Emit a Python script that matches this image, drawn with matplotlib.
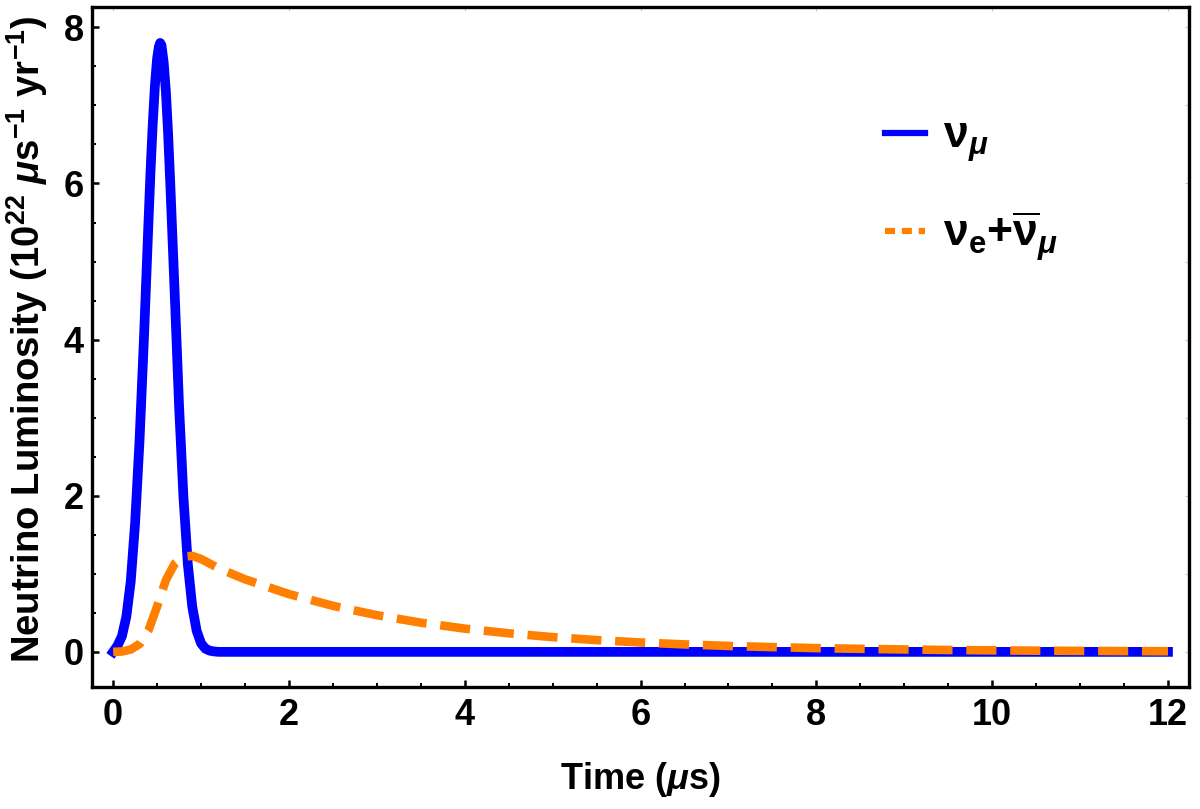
import matplotlib
matplotlib.use('Agg')
import matplotlib.pyplot as plt
from matplotlib.ticker import MultipleLocator
from matplotlib.lines import Line2D

plt.rcParams['font.family'] = ['Liberation Sans', 'DejaVu Sans']
plt.rcParams['font.weight'] = 'bold'
plt.rcParams['axes.labelweight'] = 'bold'
plt.rcParams['mathtext.fontset'] = 'custom'
plt.rcParams['mathtext.rm'] = 'Liberation Sans:bold'
plt.rcParams['mathtext.bf'] = 'Liberation Sans:bold'
plt.rcParams['mathtext.it'] = 'Liberation Sans:italic:bold'

# nu_mu pulse
t_mu = [0.0, 0.05, 0.1, 0.15, 0.2, 0.25, 0.3, 0.35, 0.4, 0.425, 0.45, 0.475,
        0.5, 0.52, 0.535, 0.55, 0.575, 0.6, 0.625, 0.65, 0.7, 0.75, 0.8, 0.85,
        0.9, 0.95, 1.0, 1.05, 1.1, 1.15, 1.2, 1.3, 2.0, 4.0, 6.0, 8.0, 10.0, 12.0]
lum_mu = [0.0, 0.08, 0.2, 0.45, 0.9, 1.65, 2.7, 4.0, 5.45, 6.15, 6.75, 7.25,
          7.6, 7.75, 7.8, 7.77, 7.55, 7.18, 6.65, 6.0, 4.6, 3.15, 1.98, 1.12,
          0.58, 0.27, 0.11, 0.04, 0.015, 0.005, 0.0, 0.0, 0.0, 0.0, 0.0, 0.0, 0.0, 0.0]

# nu_e + anti-nu_mu
t_e = [0.0, 0.1, 0.2, 0.3, 0.4, 0.5, 0.6, 0.7, 0.8, 0.9, 1.0, 1.2, 1.5,
       2.0, 2.5, 3.0, 3.5, 4.0, 4.5, 5.0, 5.5, 6.0, 6.5, 7.0, 7.5, 8.0,
       8.5, 9.0, 9.5, 10.0, 10.5, 11.0, 11.5, 12.0]
lum_e = [0.0, 0.005, 0.03, 0.1, 0.27, 0.58, 0.92, 1.13, 1.22, 1.23, 1.19, 1.07, 0.93,
         0.74, 0.59, 0.47, 0.374, 0.298, 0.238, 0.189, 0.151, 0.12, 0.096, 0.076, 0.061, 0.048,
         0.039, 0.031, 0.024, 0.0195, 0.0155, 0.0124, 0.0099, 0.0079]

blue = '#0000FF'
orange = '#FF8000'

fig = plt.figure(figsize=(12, 8.09), dpi=100)
ax = fig.add_axes([0.0767, 0.1508, 0.9142, 0.8405])

ax.plot(t_mu, lum_mu, color=blue, lw=7.0, solid_joinstyle='round', zorder=3)
ax.plot(t_e, lum_e, color=orange, lw=6.2, dashes=(3.5, 1.6), dash_capstyle='butt', zorder=4)

ax.set_xlim(-0.24, 12.24)
ax.set_ylim(-0.45, 8.26)

ax.xaxis.set_major_locator(MultipleLocator(2))
ax.xaxis.set_minor_locator(MultipleLocator(0.5))
ax.yaxis.set_major_locator(MultipleLocator(2))
ax.yaxis.set_minor_locator(MultipleLocator(0.5))

for s in ax.spines.values():
    s.set_linewidth(2.4)

ax.tick_params(which='major', direction='in', length=5, width=1.8, labelsize=26, pad=8)
ax.tick_params(axis='y', which='major', pad=6)
ax.tick_params(which='minor', direction='in', length=3, width=1.4)

# faint ticks on top and right frame
for sec in (ax.secondary_xaxis('top'), ax.secondary_yaxis('right')):
    sec.tick_params(which='both', direction='in', length=3, width=0.8, color='#c8c8c8',
                    labelleft=False, labelright=False, labeltop=False, labelbottom=False)
    sec.spines[:].set_visible(False)

ax.set_xlabel(r'Time ($\mathit{\mu}$s)', fontsize=26)
ax.xaxis.set_label_coords(0.5, -0.108)
ax.set_ylabel(r'Neutrino Luminosity (10$^{\mathrm{22}}$ $\mathit{\mu}$s$^{\mathrm{-1}}$ yr$^{\mathrm{-1}}$)',
              fontsize=27.5)
ax.yaxis.set_label_coords(-0.038, 0.512)

handles = [Line2D([], [], color=blue, lw=4.5),
           Line2D([], [], color=orange, lw=4.5, dashes=(1.6, 1.1), dash_capstyle='butt')]
labels = [r'$\mathrm{\nu}_{\mathit{\mu}}$',
          r'$\mathrm{\nu}_{\mathrm{e}}{+}\overline{\mathrm{\nu}}_{\mathit{\mu}}$']
ax.legend(handles, labels, loc='upper left', bbox_to_anchor=(0.703, 0.872), frameon=False,
          fontsize=32, handlelength=0.9, handletextpad=0.4, labelspacing=1.0, borderpad=0)

fig.savefig('out.png', dpi=100)
